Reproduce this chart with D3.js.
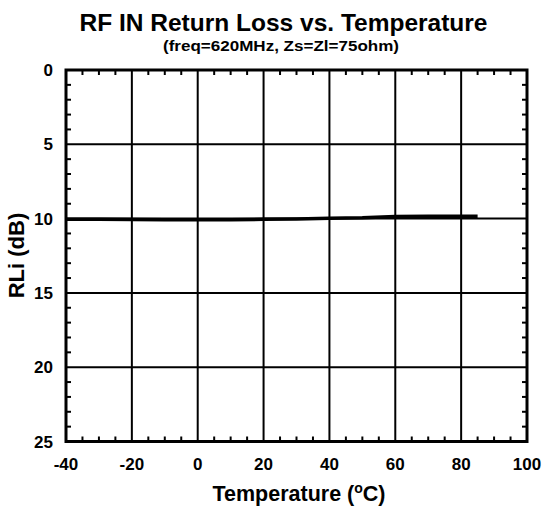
<!DOCTYPE html>
<html><head><meta charset="utf-8">
<script src="https://cdn.jsdelivr.net/npm/d3@7"></script>
<style>body{margin:0;background:#fff}svg{display:block}text{font-family:"Liberation Sans",Arial,sans-serif;font-weight:bold;fill:#000}</style>
</head><body><svg id="c" width="544" height="509"></svg>
<script>
const temps = [-40,-30,-20,-10,0,10,20,30,40,50,60,70,80,85];
const rli   = [10.05,10.05,10.06,10.08,10.08,10.08,10.05,10.02,9.97,9.95,9.86,9.85,9.85,9.85];
const xTicks = [-40,-20,0,20,40,60,80,100];
const yTicks = [0,5,10,15,20,25];
const title = "RF IN Return Loss vs. Temperature";
const subtitle = "(freq=620MHz, Zs=Zl=75ohm)";

const svg = d3.select("#c");
const L=66,R=527,T=70,B=441.5;
const x = d3.scaleLinear().domain([-40,100]).range([L,R]);
const y = d3.scaleLinear().domain([0,25]).range([T,B]);

// grid
const g = svg.append("g");
g.selectAll(".vg").data(xTicks.slice(1,-1)).enter().append("line")
 .attr("x1",d=>x(d)).attr("x2",d=>x(d)).attr("y1",T).attr("y2",B).attr("stroke","#000").attr("stroke-width",2);
g.selectAll(".hg").data(yTicks.slice(1,-1)).enter().append("line")
 .attr("y1",d=>y(d)).attr("y2",d=>y(d)).attr("x1",L).attr("x2",R).attr("stroke","#000").attr("stroke-width",2);

// minor ticks
const xMinor = d3.range(-40,101,5).filter(v=>v%20!==0);
const yMinor = d3.range(0,26,1).filter(v=>v%5!==0);
const tl=5;
g.selectAll(".xm1").data(xMinor).enter().append("line").attr("x1",d=>x(d)).attr("x2",d=>x(d)).attr("y1",B).attr("y2",B-tl).attr("stroke","#000").attr("stroke-width",2);
g.selectAll(".xm2").data(xMinor).enter().append("line").attr("x1",d=>x(d)).attr("x2",d=>x(d)).attr("y1",T).attr("y2",T+tl).attr("stroke","#000").attr("stroke-width",2);
g.selectAll(".ym1").data(yMinor).enter().append("line").attr("y1",d=>y(d)).attr("y2",d=>y(d)).attr("x1",L).attr("x2",L+tl).attr("stroke","#000").attr("stroke-width",2);
g.selectAll(".ym2").data(yMinor).enter().append("line").attr("y1",d=>y(d)).attr("y2",d=>y(d)).attr("x1",R).attr("x2",R-tl).attr("stroke","#000").attr("stroke-width",2);

// data line
svg.append("path").datum(temps.map((t,i)=>[t,rli[i]]))
 .attr("d",d3.line().x(d=>x(d[0])).y(d=>y(d[1])))
 .attr("fill","none").attr("stroke","#000").attr("stroke-width",3.5);

// frame
svg.append("rect").attr("x",L).attr("y",T).attr("width",R-L).attr("height",B-T)
 .attr("fill","none").attr("stroke","#000").attr("stroke-width",3);

// tick labels
svg.selectAll(".xl").data(xTicks).enter().append("text")
 .attr("x",d=>x(d)).attr("y",470).attr("text-anchor","middle").attr("font-size",17).text(d=>d);
svg.selectAll(".yl").data(yTicks).enter().append("text")
 .attr("x",53).attr("y",d=>y(d)+6).attr("text-anchor","end").attr("font-size",17).text(d=>d);

// titles
svg.append("text").attr("x",283.5).attr("y",31).attr("text-anchor","middle").attr("font-size",24.5).text(title);
svg.append("text").attr("x",281).attr("y",51).attr("text-anchor","middle").attr("font-size",14.5)
 .attr("textLength",236).attr("lengthAdjust","spacingAndGlyphs").text(subtitle);
const xt = svg.append("text").attr("x",299).attr("y",501).attr("text-anchor","middle").attr("font-size",21.5);
xt.append("tspan").text("Temperature (");
xt.append("tspan").attr("font-size",14).attr("dy",-8).text("o");
xt.append("tspan").attr("dy",8).text("C)");
svg.append("text").attr("transform","translate(24,255.5) rotate(-90)").attr("text-anchor","middle").attr("font-size",22).text("RLi (dB)");
</script></body></html>
